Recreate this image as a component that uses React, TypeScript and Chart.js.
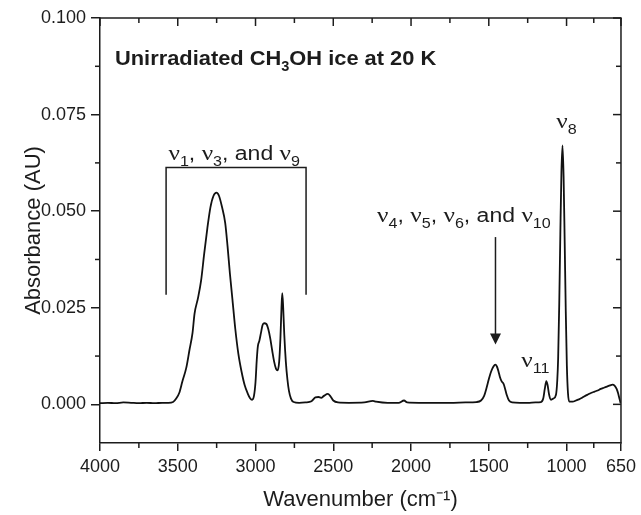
import React, { useEffect, useRef } from 'react';
import { Chart, registerables } from 'chart.js';

Chart.register(...registerables);

// IR spectrum of methanol ice: wavenumber (cm^-1) and absorbance (AU)
const WAVENUMBER = [
  4000, 3950, 3900, 3850, 3800, 3750, 3700, 3650, 3600, 3560,
  3530, 3510, 3490, 3470, 3445, 3425, 3405, 3392, 3370, 3350,
  3330, 3310, 3290, 3270, 3251, 3235, 3215, 3195, 3180, 3165,
  3148, 3130, 3110, 3090, 3070, 3050, 3035, 3022, 3010, 3000,
  2992, 2985, 2975, 2965, 2955, 2945, 2930, 2918, 2905, 2893,
  2880, 2868, 2858, 2848, 2840, 2833, 2828, 2822, 2815, 2805,
  2795, 2785, 2772, 2755, 2720, 2680, 2640, 2615, 2595, 2578,
  2560, 2535, 2520, 2500, 2470, 2400, 2300, 2245, 2225, 2150,
  2080, 2045, 2025, 1950, 1850, 1750, 1650, 1580, 1550, 1530,
  1515, 1500, 1485, 1470, 1458, 1448, 1438, 1428, 1418, 1405,
  1395, 1385, 1370, 1350, 1300, 1250, 1200, 1165, 1150, 1140,
  1130, 1122, 1112, 1100, 1085, 1068, 1060, 1054, 1047, 1040,
  1033, 1026, 1019, 1012, 1005, 998, 991, 983, 960, 940,
  920, 900, 880, 860, 840, 820, 800, 780, 760, 740,
  720, 705, 690, 678, 668, 660, 652,
];

const ABSORBANCE = [
  0.0003, 0.0004, 0.0003, 0.0005, 0.0004, 0.0003, 0.0004, 0.0003, 0.0004, 0.0004,
  0.0006, 0.0015, 0.003, 0.006, 0.0095, 0.014, 0.0185, 0.0235, 0.0275, 0.032,
  0.039, 0.0455, 0.051, 0.054, 0.0548, 0.054, 0.051, 0.047, 0.041, 0.034,
  0.027, 0.0195, 0.013, 0.0085, 0.005, 0.0028, 0.0016, 0.0012, 0.0022, 0.0058,
  0.0115, 0.015, 0.0165, 0.0185, 0.0205, 0.021, 0.0208, 0.0195, 0.017, 0.014,
  0.011, 0.0092, 0.0088, 0.011, 0.017, 0.025, 0.0288, 0.025, 0.018, 0.011,
  0.0065, 0.0035, 0.0015, 0.0006, 0.0004, 0.0005, 0.0008, 0.0018, 0.0019, 0.0017,
  0.0022, 0.0027, 0.0022, 0.001, 0.0005, 0.0004, 0.0005, 0.0009, 0.0007, 0.0004,
  0.0004, 0.001, 0.0005, 0.0004, 0.0004, 0.0004, 0.0005, 0.0006, 0.001, 0.0022,
  0.0042, 0.0065, 0.0085, 0.0098, 0.0103, 0.0098, 0.0086, 0.007, 0.006, 0.0053,
  0.004, 0.0025, 0.001, 0.0005, 0.0004, 0.0004, 0.0005, 0.0006, 0.0015, 0.004,
  0.006, 0.005, 0.0025, 0.0012, 0.0015, 0.0025, 0.006, 0.012, 0.026, 0.044,
  0.06, 0.067, 0.059, 0.042, 0.024, 0.01, 0.003, 0.0007, 0.0007, 0.001,
  0.0013, 0.0017, 0.0022, 0.0026, 0.003, 0.0033, 0.0036, 0.004, 0.0043, 0.0046,
  0.0049, 0.0051, 0.0048, 0.004, 0.0028, 0.0015, 0.0003,
];

const X_TICKS = [4000, 3500, 3000, 2500, 2000, 1500, 1000, 650];
const X_MINOR = [3750, 3250, 2750, 2250, 1750, 1250, 825];
const Y_TICKS = [0, 0.025, 0.05, 0.075, 0.1];
const Y_MINOR = [0.0125, 0.0375, 0.0625, 0.0875];

// bracket spanning the O-H / C-H stretching region: [wavenumber, absorbance]
const BRACKET_PATH = [
  [3575, 0.0284],
  [3575, 0.0613],
  [2675, 0.0613],
  [2675, 0.0284],
];
// arrow pointing at the 1450 cm^-1 band: [wavenumber, top, tip]
const ARROW = [1457, 0.0433, 0.0155];

type Run = { text: string; sub?: boolean; greek?: boolean };

// band labels: runs, anchor wavenumber (text centre), anchor absorbance (baseline)
const LABEL_STRETCH: Run[] = [
  { text: 'ν', greek: true }, { text: '1', sub: true }, { text: ', ' },
  { text: 'ν', greek: true }, { text: '3', sub: true }, { text: ', and ' },
  { text: 'ν', greek: true }, { text: '9', sub: true },
];
const LABEL_BEND: Run[] = [
  { text: 'ν', greek: true }, { text: '4', sub: true }, { text: ', ' },
  { text: 'ν', greek: true }, { text: '5', sub: true }, { text: ', ' },
  { text: 'ν', greek: true }, { text: '6', sub: true }, { text: ', and ' },
  { text: 'ν', greek: true }, { text: '10', sub: true },
];
const LABEL_V8: Run[] = [{ text: 'ν', greek: true }, { text: '8', sub: true }];
const LABEL_V11: Run[] = [{ text: 'ν', greek: true }, { text: '11', sub: true }];
const TITLE_RUNS: Run[] = [
  { text: 'Unirradiated CH' }, { text: '3', sub: true }, { text: 'OH ice at 20 K' },
];

const LABELS: [Run[], number, number][] = [
  [LABEL_STRETCH, 3137, 0.0633],
  [LABEL_BEND, 1660, 0.0472],
  [LABEL_V8, 1000, 0.0716],
  [LABEL_V11, 1200, 0.0097],
];

const INK = '#1c1c1c';
const SANS = '"Liberation Sans", Arial, sans-serif';
const SERIF = '"Liberation Serif", "Times New Roman", serif';

function drawRich(
  ctx: CanvasRenderingContext2D,
  runs: Run[],
  x: number,
  y: number,
  size: number,
  align: 'left' | 'center',
  bold: boolean,
  sx: number,
) {
  const fontFor = (r: Run) => {
    const s = r.sub ? Math.round(size * 0.68) : r.greek ? Math.round(size * 1.08) : size;
    return `${bold ? 'bold ' : ''}${s}px ${r.greek ? SERIF : SANS}`;
  };
  const widths = runs.map((r) => {
    ctx.font = fontFor(r);
    return ctx.measureText(r.text).width;
  });
  const total = widths.reduce((a, b) => a + b, 0) * sx;
  let cx = align === 'center' ? x - total / 2 : x;
  ctx.textAlign = 'left';
  ctx.textBaseline = 'alphabetic';
  runs.forEach((r, i) => {
    ctx.save();
    ctx.font = fontFor(r);
    ctx.translate(cx, y + (r.sub ? size * 0.3 : 0));
    ctx.scale(sx, 1);
    ctx.fillText(r.text, 0, 0);
    ctx.restore();
    cx += widths[i] * sx;
  });
}

const framePlugin = {
  id: 'spectrumFrame',
  afterDraw(chart: any) {
    const { ctx, chartArea } = chart;
    const { left, right, top, bottom } = chartArea;
    const xs = chart.scales.x;
    const ys = chart.scales.y;
    ctx.save();
    ctx.strokeStyle = INK;
    ctx.fillStyle = INK;
    ctx.lineWidth = 1.5;
    const line = (x1: number, y1: number, x2: number, y2: number) => {
      ctx.beginPath();
      ctx.moveTo(x1, y1);
      ctx.lineTo(x2, y2);
      ctx.stroke();
    };
    // mirrored top and right axes
    line(left, top, right + 0.75, top);
    line(right, top, right, bottom + 0.75);
    X_TICKS.forEach((v) => {
      const px = xs.getPixelForValue(v);
      line(px, top, px, top + 8);
    });
    X_MINOR.forEach((v) => {
      const px = xs.getPixelForValue(v);
      line(px, top, px, top + 5);
      line(px, bottom, px, bottom + 5);
    });
    Y_TICKS.forEach((v) => {
      const py = ys.getPixelForValue(v);
      line(right, py, right - 8, py);
    });
    Y_MINOR.forEach((v) => {
      const py = ys.getPixelForValue(v);
      line(right, py, right - 5, py);
      line(left, py, left - 5, py);
    });

    // bracket
    ctx.beginPath();
    BRACKET_PATH.forEach(([w, a], i) => {
      const px = xs.getPixelForValue(w);
      const py = ys.getPixelForValue(a);
      if (i === 0) ctx.moveTo(px, py);
      else ctx.lineTo(px, py);
    });
    ctx.stroke();

    // arrow
    const ax = xs.getPixelForValue(ARROW[0]);
    const ay1 = ys.getPixelForValue(ARROW[1]);
    const ay2 = ys.getPixelForValue(ARROW[2]);
    line(ax, ay1, ax, ay2 - 9);
    ctx.beginPath();
    ctx.moveTo(ax - 5.5, ay2 - 11);
    ctx.lineTo(ax + 5.5, ay2 - 11);
    ctx.lineTo(ax, ay2);
    ctx.closePath();
    ctx.fill();

    // band labels
    LABELS.forEach(([runs, w, a]) => {
      drawRich(ctx, runs, xs.getPixelForValue(w), ys.getPixelForValue(a), 20, 'center', false, 1.15);
    });

    // panel title
    drawRich(ctx, TITLE_RUNS, left + 15, top + 47, 21, 'left', true, 1.04);
    ctx.restore();
  },
};

export default function App() {
  const ref = useRef<HTMLCanvasElement | null>(null);

  useEffect(() => {
    if (!ref.current) return;
    const chart = new Chart(ref.current, {
      type: 'line',
      data: {
        datasets: [
          {
            data: WAVENUMBER.map((w, i) => ({ x: w, y: ABSORBANCE[i] })),
            borderColor: '#111',
            borderWidth: 1.8,
            pointRadius: 0,
            cubicInterpolationMode: 'monotone',
            fill: false,
          },
        ],
      },
      options: {
        animation: false,
        responsive: false,
        events: [],
        layout: { padding: { left: 0, top: 18, right: 17, bottom: 0 } },
        plugins: { legend: { display: false }, tooltip: { enabled: false } },
        scales: {
          x: {
            type: 'linear',
            reverse: true,
            min: 650,
            max: 4000,
            afterBuildTicks: (s: any) => {
              s.ticks = X_TICKS.map((v) => ({ value: v }));
            },
            afterFit: (s: any) => {
              s.height = 72;
            },
            ticks: {
              color: INK,
              padding: 5,
              maxRotation: 0,
              autoSkip: false,
              font: { family: SANS, size: 18 },
              callback: (v: any) => String(v),
            },
            grid: { drawOnChartArea: false, drawTicks: true, tickLength: 8, color: INK, lineWidth: 1.5 },
            border: { display: true, color: INK, width: 1.5 },
            title: {
              display: true,
              text: 'Wavenumber (cm⁻¹)',
              color: INK,
              font: { family: SANS, size: 22 },
              padding: { top: 0, bottom: 2 },
            },
          },
          y: {
            type: 'linear',
            min: -0.01,
            max: 0.1,
            afterBuildTicks: (s: any) => {
              s.ticks = Y_TICKS.map((v) => ({ value: v }));
            },
            afterFit: (s: any) => {
              s.width = 100;
            },
            ticks: {
              color: INK,
              padding: 5,
              autoSkip: false,
              font: { family: SANS, size: 18 },
              callback: (v: any) => Number(v).toFixed(3),
            },
            grid: { drawOnChartArea: false, drawTicks: true, tickLength: 9, color: INK, lineWidth: 1.5 },
            border: { display: true, color: INK, width: 1.5 },
            title: {
              display: true,
              text: 'Absorbance (AU)',
              color: INK,
              font: { family: SANS, size: 22 },
              padding: { top: 21, bottom: 0 },
            },
          },
        },
      },
      plugins: [framePlugin],
    } as any);
    return () => chart.destroy();
  }, []);

  return (
    <div style={{ position: 'absolute', left: 0, top: 0, width: 641, height: 515, background: '#fff' }}>
      <canvas ref={ref} width={641} height={515} />
    </div>
  );
}
